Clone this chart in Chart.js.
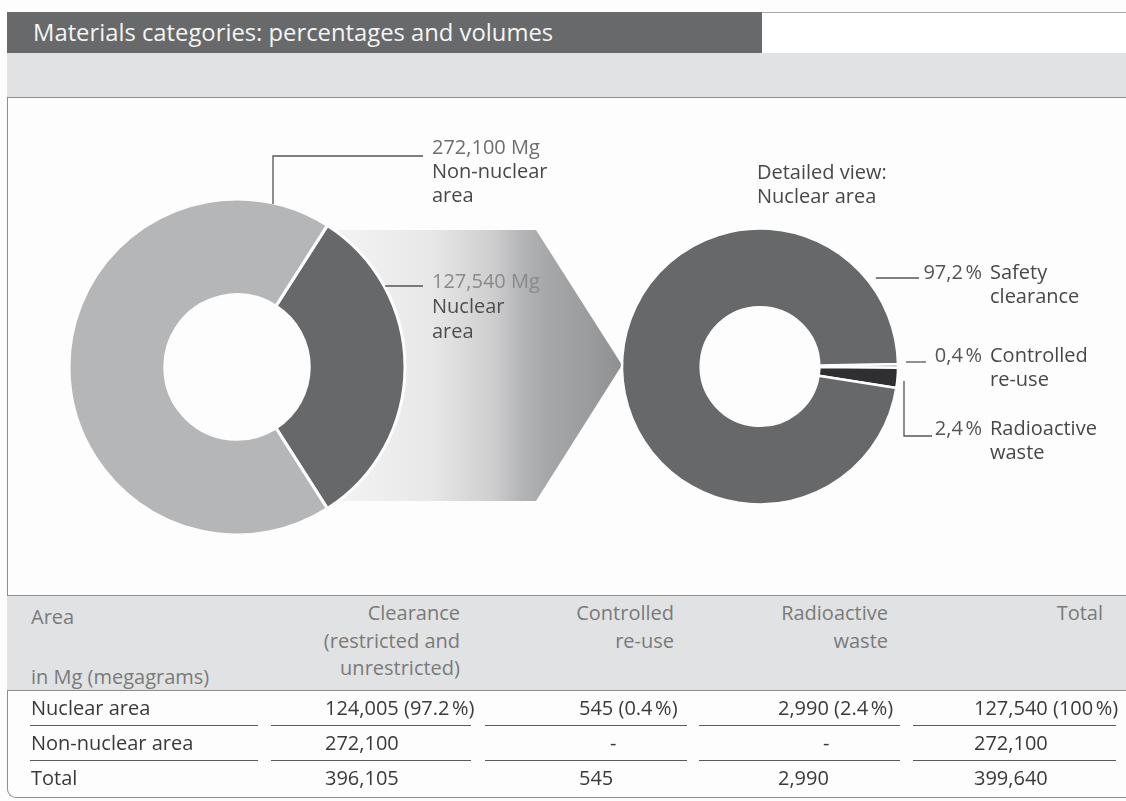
<!DOCTYPE html>
<html><head><meta charset="utf-8">
<script src="https://cdn.jsdelivr.net/npm/chart.js@4.4.0/dist/chart.umd.min.js"></script>
<style>
html,body{margin:0;padding:0;background:#fdfdfd;}
#page{position:relative;width:1126px;height:801px;overflow:hidden;font-family:"Open Sans",sans-serif;background:#fdfdfd;}
.abs{position:absolute;white-space:nowrap;}
#frame{left:7px;top:12px;width:1200px;height:786px;border-left:1.5px solid #8e8e8e;border-bottom:1.5px solid #8e8e8e;border-bottom-left-radius:9px;box-sizing:border-box;}
#titlebar{left:7px;top:12px;width:755px;height:41px;background:#68696b;color:#f5f5f5;font-size:23.8px;line-height:40px;padding-left:26px;box-sizing:border-box;}
#titleright{left:762px;top:12px;width:400px;height:41px;border-top:1.5px solid #a8a8a8;box-sizing:border-box;background:#ffffff;}
#band{left:7px;top:53px;width:1130px;height:45px;background:#e1e2e3;border-bottom:1.5px solid #8e8e8e;box-sizing:border-box;}
#arrow{left:330px;top:230px;width:292px;height:271px;
  clip-path:polygon(0 0,206px 0,292px 135px,206px 271px,0 271px);
  background:linear-gradient(to right,#f4f4f4 0px,#e8e8e8 100px,#cececf 163px,#b5b6b8 190px,#a7a8aa 215px,#9a9b9d 260px,#8f9092 292px);}
canvas.ch{position:absolute;left:0;top:0;}
.lbl{font-size:20px;line-height:24px;}
#thead{left:7px;top:595px;width:1130px;height:96px;background:#e1e2e3;border-top:1.5px solid #8e8e8e;border-bottom:1.5px solid #8e8e8e;box-sizing:border-box;}
.th{font-size:20px;line-height:27.5px;color:#7a7a7a;}
.td{font-size:20px;line-height:24px;color:#3a3a3a;}
.sep{height:0;border-top:1.5px solid #5a5a5a;}
</style></head>
<body><div id="page">
<div id="frame" class="abs"></div>
<div id="band" class="abs"></div>
<div id="titlebar" class="abs">Materials categories: percentages and volumes</div>
<div id="titleright" class="abs"></div>
<div id="arrow" class="abs"></div>
<canvas id="c1" class="ch" width="1126" height="801"></canvas>
<canvas id="c2" class="ch" width="1126" height="801"></canvas>
<div id="thead" class="abs"></div>
</div>
<script>
// ---- data ----
const areaLabels = ['Nuclear area', 'Non-nuclear area'];
const areaVolumes = [127540, 272100];
const nuclearCategories = ['Controlled re-use', 'Radioactive waste', 'Safety clearance'];
const nuclearVolumes = [545, 2990, 124005];
const nuclearShares = [0.4, 2.4, 97.2];
const tableColumns = ['Clearance\n(restricted and\nunrestricted)', 'Controlled\nre-use', 'Radioactive\nwaste', 'Total'];
const tableRowLabels = ['Nuclear area', 'Non-nuclear area', 'Total'];
const clearanceCol = [124005, 272100, 396105];
const clearanceShare = [97.2, null, null];
const reuseCol = [545, null, 545];
const reuseShare = [0.4, null, null];
const wasteCol = [2990, null, 2990];
const wasteShare = [2.4, null, null];
const totalCol = [127540, 272100, 399640];
const totalShare = [100, null, null];

const page = document.getElementById('page');
const NB = '\u202F';
const fmt = v => v.toLocaleString('en-US');
function addDiv(cls, html, style){
  const d = document.createElement('div');
  d.className = 'abs ' + cls;
  d.innerHTML = html;
  Object.assign(d.style, style);
  page.appendChild(d);
  return d;
}

// ---- leader lines plugin ----
function leaderPlugin(paths){
  return {
    id:'leaders',
    afterDraw(chart){
      const ctx = chart.ctx;
      const arcs = chart.getDatasetMeta(0).data;
      ctx.save();
      ctx.strokeStyle = '#555';
      ctx.lineWidth = 1.3;
      paths(arcs[0]).forEach(p => {
        ctx.beginPath();
        ctx.moveTo(p[0][0], p[0][1]);
        for (let i = 1; i < p.length; i++) ctx.lineTo(p[i][0], p[i][1]);
        ctx.stroke();
      });
      ctx.restore();
    }
  };
}
const onCircleX = (a, y, gap) => a.x + Math.sqrt(Math.max(a.outerRadius*a.outerRadius - (y-a.y)*(y-a.y),0)) + gap;
const onCircleY = (a, x) => a.y - Math.sqrt(Math.max(a.outerRadius*a.outerRadius - (x-a.x)*(x-a.x),0));

const common = {responsive:false, animation:false, events:[], plugins:{legend:{display:false}, tooltip:{enabled:false}}};

// left donut
const areaTotal = areaVolumes[0] + areaVolumes[1];
new Chart(document.getElementById('c1'), {
  type:'doughnut',
  data:{labels:areaLabels, datasets:[{data:areaVolumes, backgroundColor:['#67686a','#b5b6b8'], borderColor:'#fdfdfd', borderWidth:3, hoverOffset:0}]},
  options:Object.assign({}, common, {
    rotation: 90 - 180*areaVolumes[0]/areaTotal, cutout:'43%', radius:168,
    layout:{padding:{left:0, right:1126-474, top:0, bottom:801-734}}
  }),
  plugins:[leaderPlugin(a => [
    [[273, onCircleY(a,273)+1], [273,156], [423,156]],
    [[onCircleX(a,286,1),286], [423,286]]
  ])]
});

// right donut
new Chart(document.getElementById('c2'), {
  type:'doughnut',
  data:{labels:nuclearCategories, datasets:[{data:nuclearVolumes, backgroundColor:['#6a6b6d','#2f2f31','#67686a'], borderColor:'#fdfdfd', borderWidth:2.5, hoverOffset:0}]},
  options:Object.assign({}, common, {
    rotation:89, cutout:'43%', radius:138,
    layout:{padding:{left:2*760-1126, right:0, top:0, bottom:801-733}}
  }),
  plugins:[leaderPlugin(a => [
    [[onCircleX(a,278,10),278], [919,278]],
    [[onCircleX(a,362,8),362], [926,362]],
    [[904,381], [904,436], [932,436]]
  ])]
});

// ---- donut labels ----
addDiv('lbl', '<span style="color:#6e6e6e">'+fmt(areaVolumes[1])+' Mg</span><br>Non-nuclear<br>area', {left:'432px', top:'135px', color:'#484848'});
addDiv('lbl', '<span style="color:#8a8a8c">'+fmt(areaVolumes[0])+' Mg</span><br>Nuclear<br>area', {left:'432px', top:'268px', color:'#4e4e4e', lineHeight:'25px'});
addDiv('lbl', 'Detailed view:<br>Nuclear area', {left:'757px', top:'160px', color:'#484848'});
const catLines = ['Safety<br>clearance', 'Controlled<br>re-use', 'Radioactive<br>waste'];
const catIdx = [2, 0, 1];
const catTop = [260, 343, 416];
catIdx.forEach((k, i) => {
  addDiv('lbl', String(nuclearShares[k]).replace('.', ',') + NB + '%', {left:'880px', width:'102px', textAlign:'right', top:catTop[i]+'px', color:'#555'});
  addDiv('lbl', catLines[i], {left:'990px', top:catTop[i]+'px', color:'#484848'});
});

// ---- table ----
const colBoxes = [[30,258],[271,471],[485,687],[699,900],[913,1116]];
const dataLeft = [31, 325, 579, 778, 974];
const dashLeft = [null, null, 610, 823, null];
const headRight = [null, 460, 674, 888, 1103];
const rowCenter = [708, 743, 778];
const sepY = [725, 760];

addDiv('th', 'Area', {left:'31px', top:(617-13.75)+'px'});
addDiv('th', 'in Mg (megagrams)', {left:'31px', top:(677-13.75)+'px'});
tableColumns.forEach((h, j) => {
  addDiv('th', h.split('\n').join('<br>'), {left:(headRight[j+1]-300)+'px', width:'300px', textAlign:'right', top:(613-13.75)+'px'});
});
const cols = [[clearanceCol, clearanceShare],[reuseCol, reuseShare],[wasteCol, wasteShare],[totalCol, totalShare]];
tableRowLabels.forEach((r, i) => {
  const top = (rowCenter[i]-12)+'px';
  addDiv('td', r, {left:dataLeft[0]+'px', top});
  cols.forEach((c, j) => {
    const v = c[0][i], s = c[1][i];
    if (v === null) {
      addDiv('td', '-', {left:dashLeft[j+1]+'px', top});
    } else {
      addDiv('td', fmt(v) + (s !== null ? ' (' + s + NB + '%)' : ''), {left:dataLeft[j+1]+'px', top});
    }
  });
});
sepY.forEach(y => colBoxes.forEach(b => addDiv('sep', '', {left:b[0]+'px', width:(b[1]-b[0])+'px', top:y+'px'})));
</script>
</body></html>
